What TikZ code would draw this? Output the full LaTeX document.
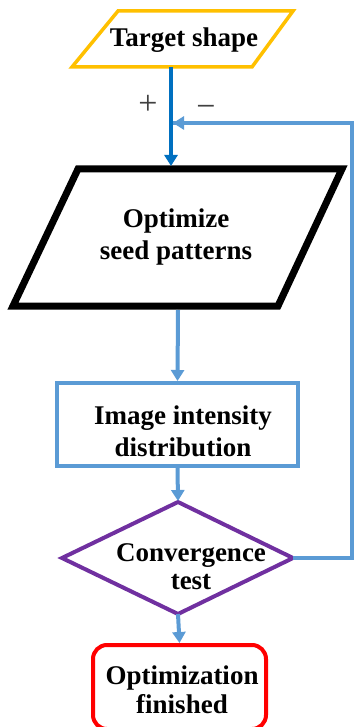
\documentclass[tikz,border=0pt]{standalone}
\usepackage{fontspec}
\setmainfont{Liberation Serif}
\usetikzlibrary{arrows.meta}
\definecolor{cyel}{HTML}{FFC000}
\definecolor{cdblue}{HTML}{0070C0}
\definecolor{clblue}{HTML}{5B9BD5}
\definecolor{cpurp}{HTML}{7030A0}
\definecolor{cred}{HTML}{FF0000}
\tikzset{
  lbl/.style={font=\fontsize{27}{32}\selectfont\bfseries, align=center, inner sep=0pt},
  conn/.style={line width=4pt, clblue, -{Triangle[length=11pt,width=13pt]}},
}
\begin{document}
\begin{tikzpicture}[x=1pt,y=-1pt]
\useasboundingbox (0,0) rectangle (356,727);
% Target shape
\draw[cyel, line width=3.5pt, line join=miter] (118,11) -- (293,11) -- (252,67) -- (72,67) -- cycle;
\node[lbl] (target) at (184,40) {Target shape};
\coordinate (tb) at (171,67);
% Optimize
\draw[black, line width=7pt, line join=miter] (78,169) -- (342,169) -- (278,306) -- (13,306) -- cycle;
\node[lbl] (opt) at (176,237) {Optimize\\seed patterns};
\coordinate (ot) at (171,166);
\coordinate (ob) at (178,310);
% Image intensity
\node[draw=clblue, line width=4pt, minimum width=241pt, minimum height=83pt, inner sep=0pt] (img) at (177.5,424.5) {};
\node[lbl, font=\fontsize{27}{32}\selectfont\bfseries] (imgt) at (183,431) {Image intensity\\distribution};
% Diamond
\draw[cpurp, line width=4pt, line join=miter] (178,502) -- (293,558) -- (178,614) -- (62,558) -- cycle;
\coordinate (dt) at (178,501);
\coordinate (dr) at (293,558);
\coordinate (db) at (178,614);
\node[lbl, font=\fontsize{27}{28}\selectfont\bfseries] (conv) at (191,567) {Convergence\\test};
% End
\node[draw=cred, line width=4pt, rounded corners=14pt, minimum width=173pt, minimum height=84pt, inner sep=0pt] (fin) at (179.5,687) {};
\node[lbl, font=\fontsize{27}{29}\selectfont\bfseries] (fint) at (182,690) {Optimization\\finished};
% Connectors
\draw[line width=3.5pt, cdblue, -{Triangle[length=11pt,width=13pt]}] (tb) -- (ot);
\coordinate (fr) at (352,558);
\coordinate (ft) at (352,123);
\coordinate (fj) at (173,123);
\draw[line width=4pt, clblue, line join=miter] (dr) -- (fr) -- (ft) -- (fj|-ft);
\draw[conn] (ft) -- (fj);
\draw[conn] (ob) -- (img.north);
\draw[conn] (img.south) -- (dt);
\draw[conn] (db) -- (fin.north);
\node[font=\fontsize{34}{34}\selectfont, text=black!75, inner sep=0pt] (plus) at (148,105) {+};
\node[font=\fontsize{34}{34}\selectfont, text=black!75, inner sep=0pt] (minus) at (206,111) {−};
\end{tikzpicture}
\end{document}
